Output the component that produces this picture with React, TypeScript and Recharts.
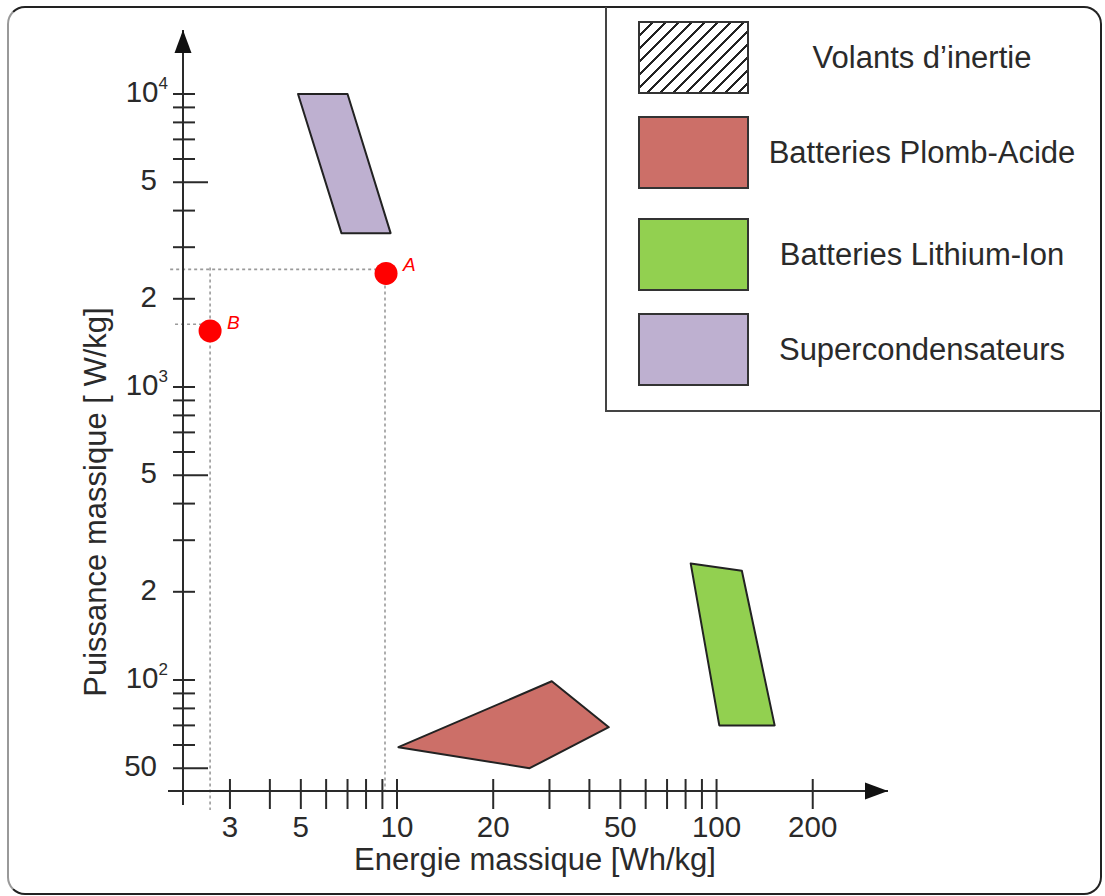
import React from "react";
import { ScatterChart, Scatter, XAxis, YAxis, ReferenceLine, ReferenceDot } from "recharts";

// axis ranges (log scales)
const xDomain = [2.139, 344];
const yDomain = [41.8, 16535];
const xOrigin = 2.139;
const yOrigin = 41.8;
const xAxisStart = 1.92;
const yAxisStart = 37.45;

const xTicks = [3, 4, 5, 6, 7, 8, 9, 10, 20, 30, 40, 50, 60, 70, 80, 90, 100, 200];
const xTickLabels: Record<number, string> = { 3: "3", 5: "5", 10: "10", 20: "20", 50: "50", 100: "100", 200: "200" };

const yTicks = [50, 60, 70, 80, 90, 100, 200, 300, 400, 500, 600, 700, 800, 900, 1000, 2000, 3000, 4000, 5000, 6000, 7000, 8000, 9000, 10000];
const yTickLabels: Record<number, string> = { 50: "50", 200: "2", 500: "5", 2000: "2", 5000: "5" };
const yPowerLabels: Record<number, string> = { 100: "2", 1000: "3", 10000: "4" };
const yLongTicks = [50, 500, 5000];

// zones
const superCap = [
  { x: 4.9, y: 10000 },
  { x: 7.0, y: 10000 },
  { x: 9.55, y: 3350 },
  { x: 6.7, y: 3350 },
];
const leadAcid = [
  { x: 10.1, y: 59 },
  { x: 30.5, y: 99 },
  { x: 46, y: 69 },
  { x: 26, y: 50 },
];
const liIon = [
  { x: 83, y: 250 },
  { x: 120, y: 236 },
  { x: 152, y: 70 },
  { x: 102, y: 70 },
];

const points = [
  { name: "A", x: 9.24, y: 2440 },
  { name: "B", x: 2.6, y: 1553 },
];

// dotted guide segments
const guides = [
  [{ x: 1.95, y: 2520 }, { x: 9.1, y: 2520 }],
  [{ x: 9.17, y: 2440 }, { x: 9.17, y: yOrigin }],
  [{ x: 2.6, y: 2560 }, { x: 2.6, y: 36 }],
  [{ x: 2.02, y: 1637 }, { x: 2.6, y: 1637 }],
];

const legendItems = [
  { label: "Volants d\u2019inertie", fill: "hatch" },
  { label: "Batteries Plomb-Acide", fill: "#CC6F68" },
  { label: "Batteries Lithium-Ion", fill: "#92D050" },
  { label: "Supercondensateurs", fill: "#BEB0D0" },
];
const legendTops = [21, 116, 218, 313];

const FONT = "'Liberation Sans', Arial, sans-serif";
const INK = "#2a2a2a";
const TITLE_SIZE = 31;

const PolyLine = (props: any) => {
  const { points: pts, polyFill } = props;
  if (!pts || !pts.length) return <g />;
  const d = pts.map((p: any) => `${p.x},${p.y}`).join(" ");
  return <polygon points={d} fill={polyFill} stroke="#222" strokeWidth={2} strokeLinejoin="round" />;
};

const emptyShape = () => <g />;

const pointShape = (props: any) => {
  const { cx, cy, payload } = props;
  return (
    <g>
      <circle cx={cx} cy={cy} r={11.5} fill="#FF0000" />
      <text x={cx + 17} y={cy - 2} fill="#FF0000" fontSize={19} fontStyle="italic" fontFamily={FONT}>
        {payload.name}
      </text>
    </g>
  );
};

const XTick = (props: any) => {
  const { x, y, payload } = props;
  const label = xTickLabels[payload.value];
  return (
    <g>
      <line x1={x} x2={x} y1={y - 12} y2={y + 18} stroke={INK} strokeWidth={2} />
      {label && (
        <text x={x} y={y + 46} textAnchor="middle" fontSize={29.5} fill={INK} fontFamily={FONT}>
          {label}
        </text>
      )}
    </g>
  );
};

const YTick = (props: any) => {
  const { x, y, payload } = props;
  const v = payload.value;
  const long = yLongTicks.includes(v);
  const label = yTickLabels[v];
  const pow = yPowerLabels[v];
  return (
    <g>
      <line x1={x - 10} x2={x + (long ? 25 : 12)} y1={y} y2={y} stroke={INK} strokeWidth={2} />
      {label && (
        <text x={x - 26} y={y + 8} textAnchor="end" fontSize={29.5} fill={INK} fontFamily={FONT}>
          {label}
        </text>
      )}
      {pow && (
        <text x={x - 15} y={y + 8} textAnchor="end" fontSize={29.5} fill={INK} fontFamily={FONT}>
          10
          <tspan fontSize={17} dy={-13}>{pow}</tspan>
        </text>
      )}
    </g>
  );
};

const ArrowUp = (props: any) => {
  const { cx, cy } = props;
  return <polygon points={`${cx},${cy} ${cx - 8.5},${cy + 23} ${cx + 8.5},${cy + 23}`} fill="#111" />;
};

const ArrowRight = (props: any) => {
  const { cx, cy } = props;
  return <polygon points={`${cx},${cy} ${cx - 23},${cy - 8.5} ${cx - 23},${cy + 8.5}`} fill="#111" />;
};

export default function App() {
  return (
    <div style={{ position: "absolute", left: 0, top: 0, width: 1105, height: 896, background: "#fff", fontFamily: FONT }}>
      <div
        style={{
          position: "absolute",
          left: 7,
          top: 6,
          width: 1095,
          height: 889,
          boxSizing: "border-box",
          border: "2px solid #222",
          borderLeftColor: "#999",
          borderRadius: 18,
        }}
      />
      <div
        style={{
          position: "absolute",
          left: 605,
          top: 7,
          width: 496,
          height: 405,
          boxSizing: "border-box",
          borderLeft: "2px solid #444",
          borderBottom: "2px solid #444",
        }}
      />
      {legendItems.map((item, i) => (
        <React.Fragment key={item.label}>
          <div
            style={{
              position: "absolute",
              left: 638,
              top: legendTops[i],
              width: 111,
              height: 73,
              boxSizing: "border-box",
              border: "2px solid #333",
              background:
                item.fill === "hatch"
                  ? "repeating-linear-gradient(135deg, #fff 0px, #fff 7.6px, #222 7.6px, #222 9.2px)"
                  : item.fill,
            }}
          />
          <div
            style={{
              position: "absolute",
              left: 749,
              top: legendTops[i],
              width: 346,
              height: 73,
              lineHeight: "73px",
              textAlign: "center",
              fontSize: TITLE_SIZE,
              color: INK,
              whiteSpace: "nowrap",
            }}
          >
            {item.label}
          </div>
        </React.Fragment>
      ))}
      <div style={{ position: "absolute", left: 0, top: 0 }}>
        <ScatterChart width={1105} height={896} margin={{ top: 30, right: 217, bottom: 0, left: 0 }}>
          <XAxis
            type="number"
            dataKey="x"
            scale="log"
            domain={xDomain}
            allowDataOverflow
            ticks={xTicks}
            interval={0}
            height={105}
            tickSize={0}
            tickMargin={0}
            tickLine={false}
            tick={<XTick />}
            axisLine={{ stroke: INK, strokeWidth: 2 }}
          />
          <YAxis
            type="number"
            dataKey="y"
            scale="log"
            domain={yDomain}
            allowDataOverflow
            ticks={yTicks}
            interval={0}
            width={183}
            tickSize={0}
            tickMargin={0}
            tickLine={false}
            tick={<YTick />}
            axisLine={{ stroke: INK, strokeWidth: 2 }}
          />
          <ReferenceLine
            segment={[{ x: xAxisStart, y: yOrigin }, { x: xOrigin, y: yOrigin }]}
            stroke={INK}
            strokeWidth={2}
            ifOverflow="visible"
          />
          <ReferenceLine
            segment={[{ x: xOrigin, y: yAxisStart }, { x: xOrigin, y: yOrigin }]}
            stroke={INK}
            strokeWidth={2}
            ifOverflow="visible"
          />
          {guides.map((seg, i) => (
            <ReferenceLine
              key={i}
              segment={seg}
              stroke="#9a9a9a"
              strokeWidth={1.6}
              strokeDasharray="3 3"
              ifOverflow="visible"
            />
          ))}
          <ReferenceDot x={xOrigin} y={yDomain[1]} r={1} shape={<ArrowUp />} ifOverflow="visible" />
          <ReferenceDot x={xDomain[1]} y={yOrigin} r={1} shape={<ArrowRight />} ifOverflow="visible" />
          <Scatter data={superCap} line={<PolyLine polyFill="#BEB0D0" />} lineType="joint" shape={emptyShape} isAnimationActive={false} />
          <Scatter data={leadAcid} line={<PolyLine polyFill="#CC6F68" />} lineType="joint" shape={emptyShape} isAnimationActive={false} />
          <Scatter data={liIon} line={<PolyLine polyFill="#92D050" />} lineType="joint" shape={emptyShape} isAnimationActive={false} />
          <Scatter data={points} shape={pointShape} isAnimationActive={false} />
        </ScatterChart>
      </div>
      <svg width={1105} height={896} style={{ position: "absolute", left: 0, top: 0, pointerEvents: "none" }}>
        <text x={535} y={870} textAnchor="middle" fontSize={TITLE_SIZE} fill={INK} fontFamily={FONT}>
          Energie massique [Wh/kg]
        </text>
        <text
          x={0}
          y={0}
          transform="translate(106 502) rotate(-90)"
          textAnchor="middle"
          fontSize={TITLE_SIZE}
          fill={INK}
          fontFamily={FONT}
        >
          Puissance massique [ W/kg]
        </text>
      </svg>
    </div>
  );
}
